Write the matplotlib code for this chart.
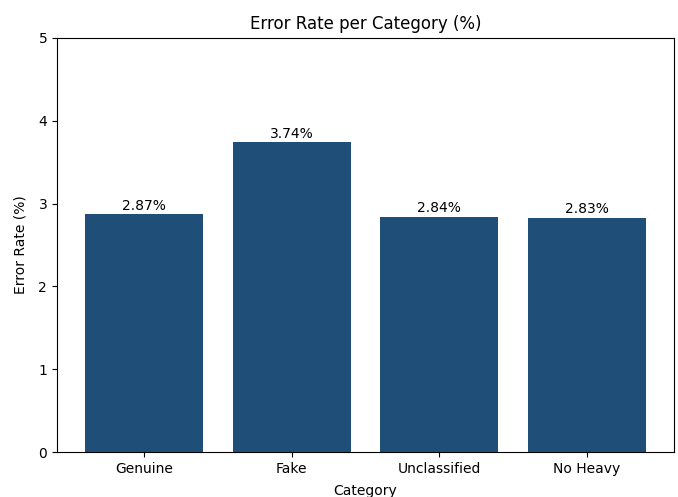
import matplotlib
matplotlib.use("Agg")
import matplotlib.pyplot as plt

categories = ["Genuine", "Fake", "Unclassified", "No Heavy"]
error_rates = [2.87, 3.74, 2.84, 2.83]

fig, ax = plt.subplots(figsize=(6.78, 4.97), dpi=100)
bars = ax.bar(categories, error_rates, color="#1f4e79")
for bar, val in zip(bars, error_rates):
    ax.text(bar.get_x() + bar.get_width() / 2, bar.get_height() + 0.02,
            f"{val:.2f}%", ha="center", va="bottom", fontsize=10)

ax.set_ylim(0, 5)
ax.set_title("Error Rate per Category (%)")
ax.set_xlabel("Category", labelpad=5.5)
ax.set_ylabel("Error Rate (%)", labelpad=7.5)

fig.subplots_adjust(left=0.084, right=0.994, top=0.924, bottom=0.09)
fig.savefig("out.png")
